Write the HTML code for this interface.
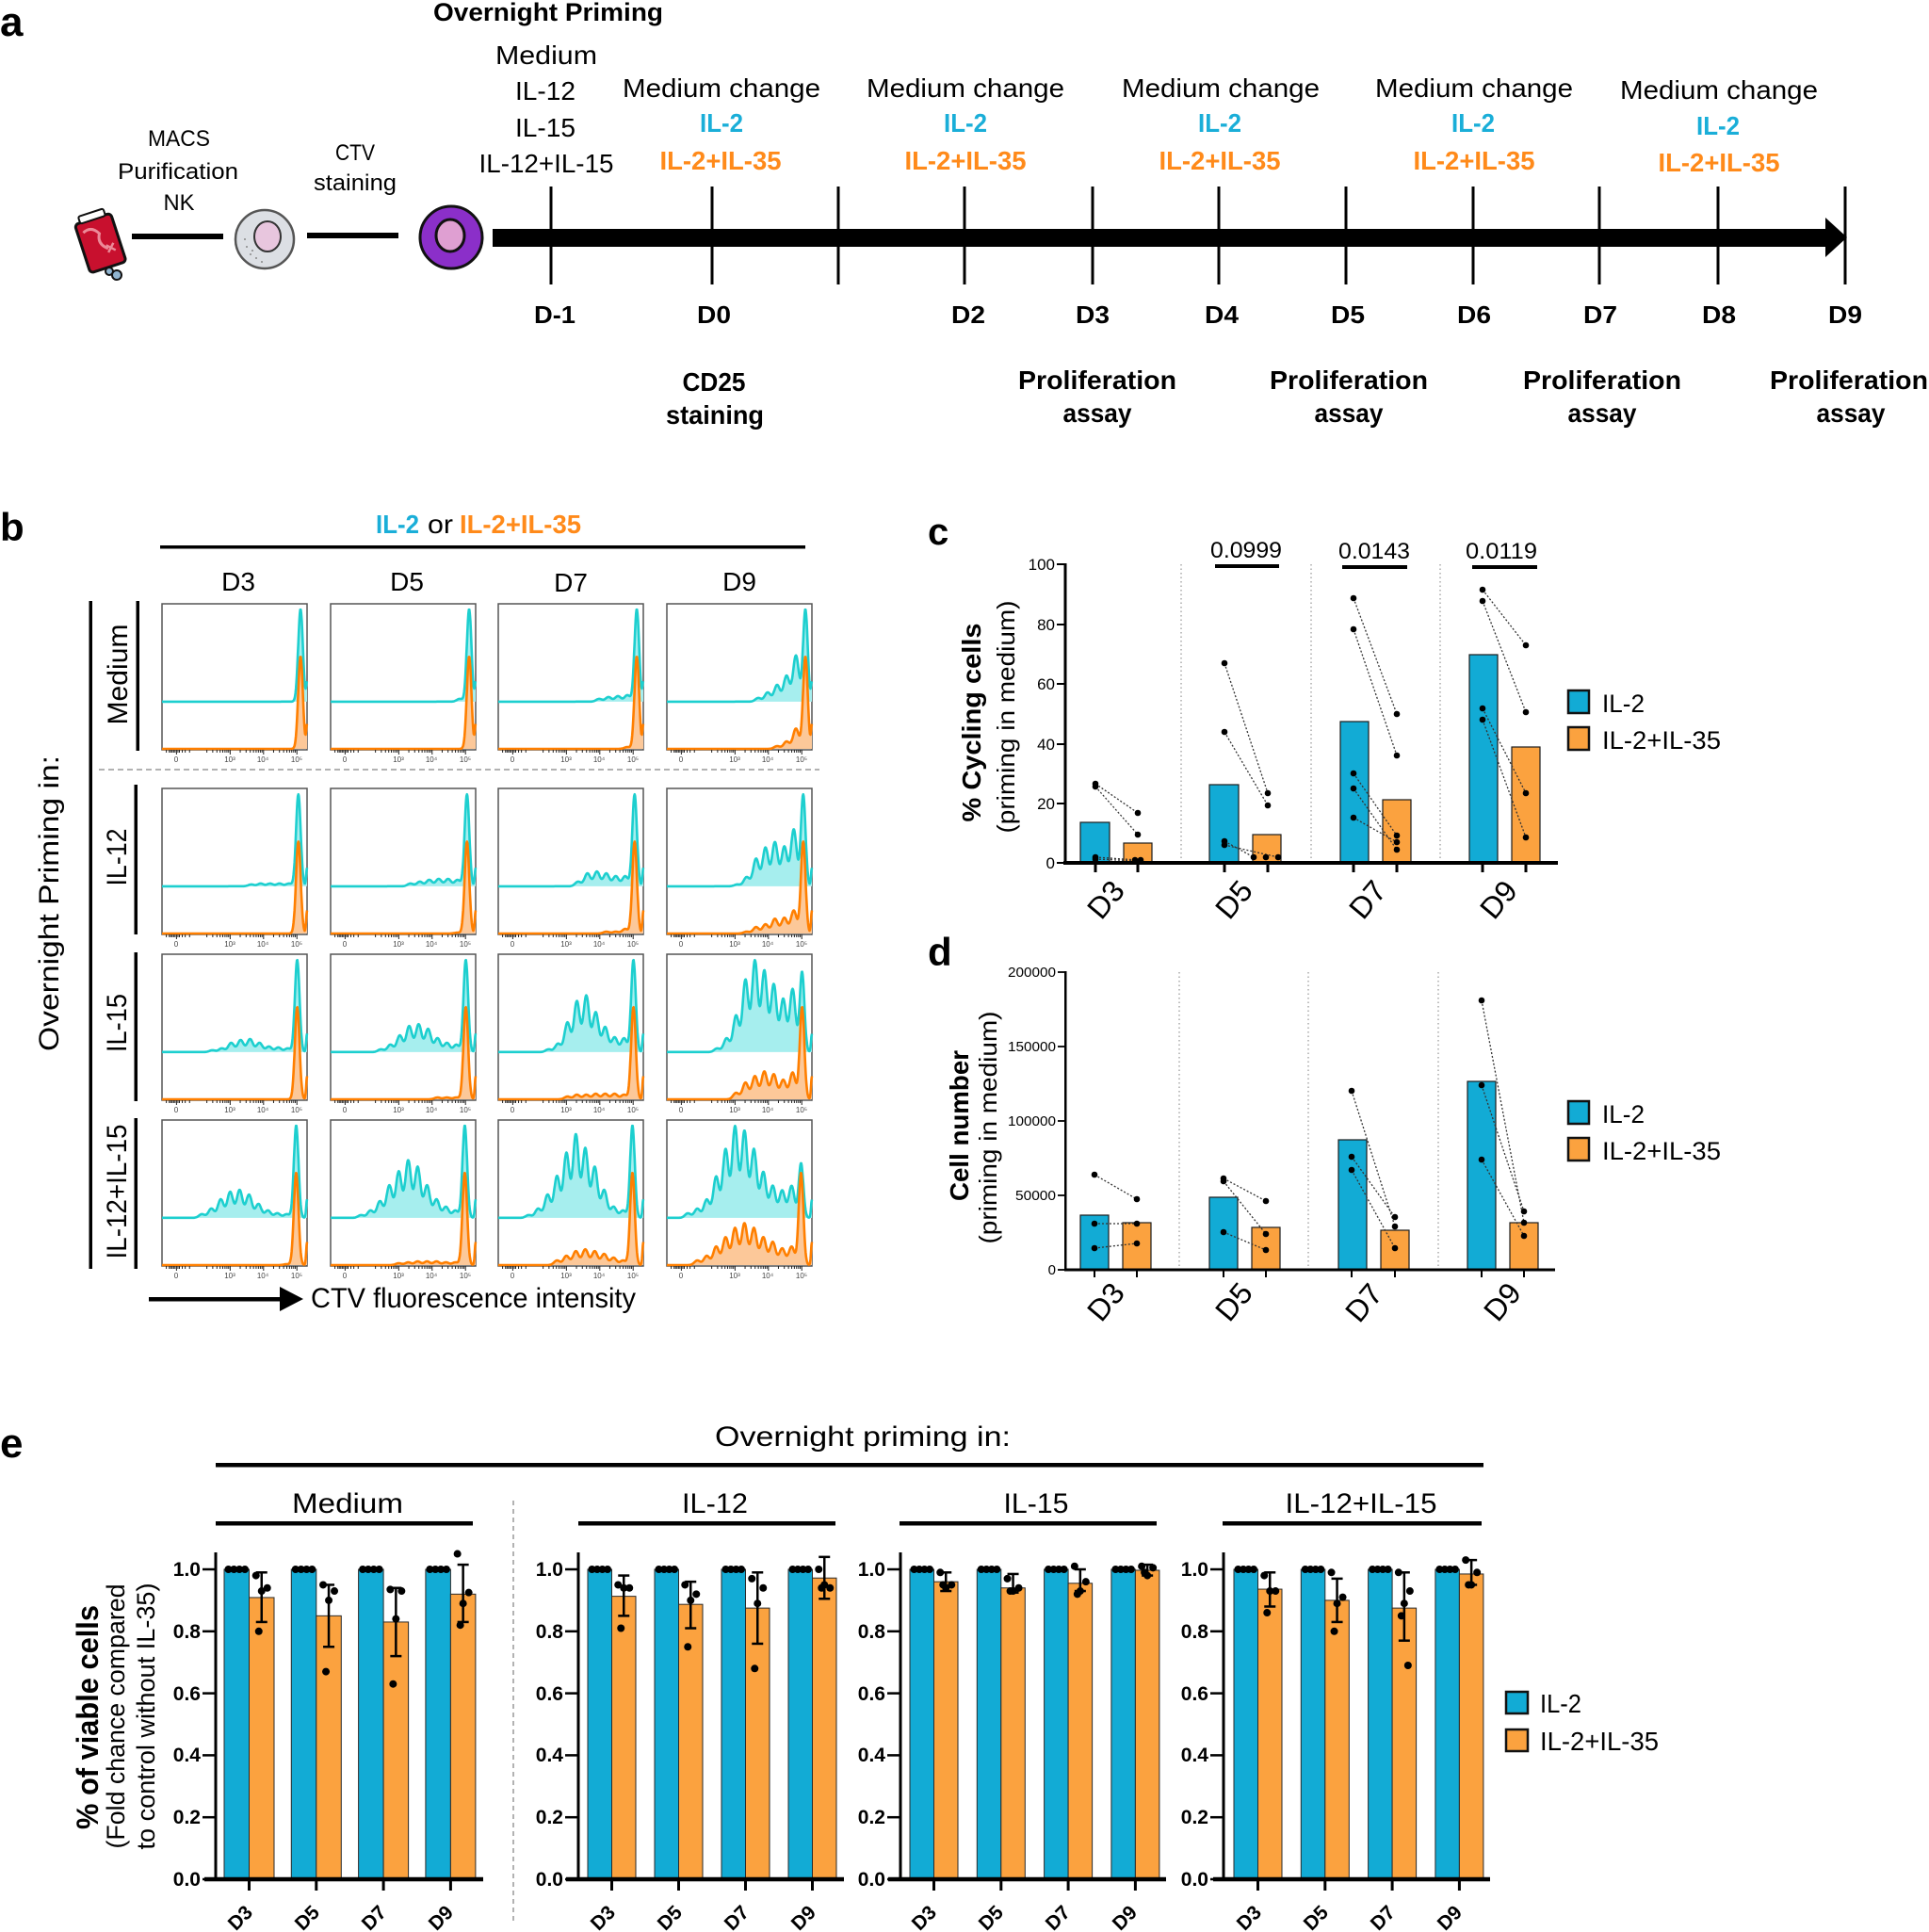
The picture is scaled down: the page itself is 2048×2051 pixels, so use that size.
<!DOCTYPE html>
<html><head><meta charset="utf-8"><title>Figure</title>
<style>
html,body{margin:0;padding:0;background:#fff;}
svg{display:block;}
text{font-family:"Liberation Sans",sans-serif;}
</style></head><body>
<svg id="s" xmlns="http://www.w3.org/2000/svg" width="2048" height="2051" viewBox="0 0 2048 2051">
<rect x="0" y="0" width="2048" height="2051" fill="#fff"/>

<!-- ================= PANEL A ================= -->
<text x="0" y="38" font-size="44" font-weight="bold">a</text>
<g text-anchor="middle">
<text x="582" y="22" font-size="27" font-weight="bold" textLength="244" lengthAdjust="spacingAndGlyphs">Overnight Priming</text>
<text x="580" y="68" font-size="28" textLength="108" lengthAdjust="spacingAndGlyphs">Medium</text>
<text x="579" y="106" font-size="28" textLength="64" lengthAdjust="spacingAndGlyphs">IL-12</text>
<text x="579" y="145" font-size="28" textLength="64" lengthAdjust="spacingAndGlyphs">IL-15</text>
<text x="580" y="183" font-size="28" textLength="143" lengthAdjust="spacingAndGlyphs">IL-12+IL-15</text>

<text x="190" y="155" font-size="24" textLength="66" lengthAdjust="spacingAndGlyphs">MACS</text>
<text x="189" y="190" font-size="24" textLength="128" lengthAdjust="spacingAndGlyphs">Purification</text>
<text x="190" y="223" font-size="24" textLength="33" lengthAdjust="spacingAndGlyphs">NK</text>
<text x="377" y="170" font-size="24" textLength="42" lengthAdjust="spacingAndGlyphs">CTV</text>
<text x="377" y="202" font-size="24" textLength="88" lengthAdjust="spacingAndGlyphs">staining</text>

<text x="766" y="103" font-size="28" textLength="210" lengthAdjust="spacingAndGlyphs">Medium change</text>
<text x="766" y="140" font-size="28" font-weight="bold" fill="#1aaed8" textLength="46" lengthAdjust="spacingAndGlyphs">IL-2</text>
<text x="765" y="180" font-size="28" font-weight="bold" fill="#ff8a1a" textLength="129" lengthAdjust="spacingAndGlyphs">IL-2+IL-35</text>

<text x="1025" y="103" font-size="28" textLength="210" lengthAdjust="spacingAndGlyphs">Medium change</text>
<text x="1025" y="140" font-size="28" font-weight="bold" fill="#1aaed8" textLength="46" lengthAdjust="spacingAndGlyphs">IL-2</text>
<text x="1025" y="180" font-size="28" font-weight="bold" fill="#ff8a1a" textLength="129" lengthAdjust="spacingAndGlyphs">IL-2+IL-35</text>

<text x="1296" y="103" font-size="28" textLength="210" lengthAdjust="spacingAndGlyphs">Medium change</text>
<text x="1295" y="140" font-size="28" font-weight="bold" fill="#1aaed8" textLength="46" lengthAdjust="spacingAndGlyphs">IL-2</text>
<text x="1295" y="180" font-size="28" font-weight="bold" fill="#ff8a1a" textLength="129" lengthAdjust="spacingAndGlyphs">IL-2+IL-35</text>

<text x="1565" y="103" font-size="28" textLength="210" lengthAdjust="spacingAndGlyphs">Medium change</text>
<text x="1564" y="140" font-size="28" font-weight="bold" fill="#1aaed8" textLength="46" lengthAdjust="spacingAndGlyphs">IL-2</text>
<text x="1565" y="180" font-size="28" font-weight="bold" fill="#ff8a1a" textLength="129" lengthAdjust="spacingAndGlyphs">IL-2+IL-35</text>

<text x="1825" y="105" font-size="28" textLength="210" lengthAdjust="spacingAndGlyphs">Medium change</text>
<text x="1824" y="143" font-size="28" font-weight="bold" fill="#1aaed8" textLength="46" lengthAdjust="spacingAndGlyphs">IL-2</text>
<text x="1825" y="182" font-size="28" font-weight="bold" fill="#ff8a1a" textLength="129" lengthAdjust="spacingAndGlyphs">IL-2+IL-35</text>

<g font-size="26" font-weight="bold">
<text x="589" y="343" textLength="44" lengthAdjust="spacingAndGlyphs">D-1</text>
<text x="758" y="343" textLength="36" lengthAdjust="spacingAndGlyphs">D0</text>
<text x="1028" y="343" textLength="36" lengthAdjust="spacingAndGlyphs">D2</text>
<text x="1160" y="343" textLength="36" lengthAdjust="spacingAndGlyphs">D3</text>
<text x="1297" y="343" textLength="36" lengthAdjust="spacingAndGlyphs">D4</text>
<text x="1431" y="343" textLength="36" lengthAdjust="spacingAndGlyphs">D5</text>
<text x="1565" y="343" textLength="36" lengthAdjust="spacingAndGlyphs">D6</text>
<text x="1699" y="343" textLength="36" lengthAdjust="spacingAndGlyphs">D7</text>
<text x="1825" y="343" textLength="36" lengthAdjust="spacingAndGlyphs">D8</text>
<text x="1959" y="343" textLength="36" lengthAdjust="spacingAndGlyphs">D9</text>
</g>
<g font-size="28" font-weight="bold">
<text x="758" y="415" textLength="67" lengthAdjust="spacingAndGlyphs">CD25</text>
<text x="759" y="450" textLength="104" lengthAdjust="spacingAndGlyphs">staining</text>
<text x="1165" y="413" textLength="168" lengthAdjust="spacingAndGlyphs">Proliferation</text>
<text x="1165" y="448" textLength="73" lengthAdjust="spacingAndGlyphs">assay</text>
<text x="1432" y="413" textLength="168" lengthAdjust="spacingAndGlyphs">Proliferation</text>
<text x="1432" y="448" textLength="73" lengthAdjust="spacingAndGlyphs">assay</text>
<text x="1701" y="413" textLength="168" lengthAdjust="spacingAndGlyphs">Proliferation</text>
<text x="1701" y="448" textLength="73" lengthAdjust="spacingAndGlyphs">assay</text>
<text x="1963" y="413" textLength="168" lengthAdjust="spacingAndGlyphs">Proliferation</text>
<text x="1965" y="448" textLength="73" lengthAdjust="spacingAndGlyphs">assay</text>
</g>
</g>

<!-- icons -->
<g transform="rotate(-18 107 259)">
<rect x="87" y="231" width="40" height="54" rx="4" fill="#c8102e" stroke="#111" stroke-width="3"/>
<rect x="93" y="224" width="28" height="8" rx="2" fill="#fff" stroke="#111" stroke-width="2"/>
<path d="M93 242 q10 -5 16 6 q-6 10 4 18" stroke="#ec8a98" stroke-width="3" fill="none"/>
<path d="M112 262 l8 8 m0 -8 l-8 8" stroke="#ec8a98" stroke-width="2.5" fill="none"/>
</g>
<circle cx="116" cy="288" r="4" fill="#8fb4d0" stroke="#111" stroke-width="2"/>
<circle cx="124" cy="292" r="5" fill="#8fb4d0" stroke="#111" stroke-width="2"/>
<rect x="140" y="248" width="97" height="6" fill="#000"/>
<ellipse cx="281" cy="254" rx="31" ry="31" fill="#dcdfe4" stroke="#555" stroke-width="2.5"/>
<ellipse cx="284" cy="251" rx="14" ry="16" fill="#e8c6de" stroke="#333" stroke-width="2"/>
<g fill="#888"><circle cx="262" cy="262" r="1"/><circle cx="266" cy="270" r="1"/><circle cx="272" cy="274" r="1"/><circle cx="260" cy="254" r="1"/><circle cx="278" cy="278" r="1"/><circle cx="268" cy="266" r="1"/></g>
<rect x="326" y="247" width="97" height="6" fill="#000"/>
<ellipse cx="479" cy="252" rx="33" ry="33" fill="#8b2fc9" stroke="#111" stroke-width="3"/>
<ellipse cx="478" cy="250" rx="15" ry="17" fill="#df9fd2" stroke="#111" stroke-width="3"/>

<path d="M523,243 H1938 V231 L1961,252 L1938,273 V262 H523 Z" fill="#000"/>
<g stroke="#000" stroke-width="3">
<line x1="585" y1="198" x2="585" y2="302"/><line x1="756" y1="198" x2="756" y2="302"/>
<line x1="890" y1="198" x2="890" y2="302"/><line x1="1024" y1="198" x2="1024" y2="302"/>
<line x1="1160" y1="198" x2="1160" y2="302"/><line x1="1294" y1="198" x2="1294" y2="302"/>
<line x1="1429" y1="198" x2="1429" y2="302"/><line x1="1564" y1="198" x2="1564" y2="302"/>
<line x1="1698" y1="198" x2="1698" y2="302"/><line x1="1824" y1="198" x2="1824" y2="302"/>
<line x1="1959" y1="198" x2="1959" y2="302"/>
</g>

<!-- ================= PANEL B ================= -->
<text x="0" y="574" font-size="42" font-weight="bold">b</text>
<text x="399" y="566" font-size="28" font-weight="bold" fill="#1aaed8" textLength="46" lengthAdjust="spacingAndGlyphs">IL-2</text>
<text x="454" y="566" font-size="28" textLength="27" lengthAdjust="spacingAndGlyphs">or</text>
<text x="488" y="566" font-size="28" font-weight="bold" fill="#ff8a1a" textLength="129" lengthAdjust="spacingAndGlyphs">IL-2+IL-35</text>
<rect x="170" y="579" width="685" height="3.5" fill="#000"/>
<g font-size="28" text-anchor="middle">
<text x="253" y="627">D3</text><text x="432" y="627">D5</text><text x="606" y="628">D7</text><text x="785" y="627">D9</text>
</g>
<rect x="94.5" y="638" width="3.5" height="709" fill="#000"/>
<rect x="144.5" y="638" width="3.5" height="159" fill="#000"/>
<rect x="142.5" y="833" width="3.5" height="159" fill="#000"/>
<rect x="142.5" y="1011" width="3.5" height="158" fill="#000"/>
<rect x="142.5" y="1187" width="3.5" height="160" fill="#000"/>
<line x1="105" y1="817" x2="870" y2="817" stroke="#999" stroke-width="1.5" stroke-dasharray="6 4"/>
<text transform="translate(62,959) rotate(-90)" text-anchor="middle" font-size="30" textLength="314" lengthAdjust="spacingAndGlyphs">Overnight Priming in:</text>
<text transform="translate(135,716) rotate(-90)" text-anchor="middle" font-size="30" textLength="107" lengthAdjust="spacingAndGlyphs">Medium</text>
<text transform="translate(134,910) rotate(-90)" text-anchor="middle" font-size="30" textLength="61" lengthAdjust="spacingAndGlyphs">IL-12</text>
<text transform="translate(134,1086) rotate(-90)" text-anchor="middle" font-size="30" textLength="62" lengthAdjust="spacingAndGlyphs">IL-15</text>
<text transform="translate(134,1265) rotate(-90)" text-anchor="middle" font-size="30" textLength="143" lengthAdjust="spacingAndGlyphs">IL-12+IL-15</text>

<g id="hist"></g>

<g font-size="8" fill="#444" text-anchor="middle">
<g transform="translate(172,641)"><text x="15" y="168">0</text><text x="72" y="168">10³</text><text x="107" y="168">10⁴</text><text x="143" y="168">10⁵</text></g>
<g transform="translate(351,641)"><text x="15" y="168">0</text><text x="72" y="168">10³</text><text x="107" y="168">10⁴</text><text x="143" y="168">10⁵</text></g>
<g transform="translate(529,641)"><text x="15" y="168">0</text><text x="72" y="168">10³</text><text x="107" y="168">10⁴</text><text x="143" y="168">10⁵</text></g>
<g transform="translate(708,641)"><text x="15" y="168">0</text><text x="72" y="168">10³</text><text x="107" y="168">10⁴</text><text x="143" y="168">10⁵</text></g>
<g transform="translate(172,837)"><text x="15" y="168">0</text><text x="72" y="168">10³</text><text x="107" y="168">10⁴</text><text x="143" y="168">10⁵</text></g>
<g transform="translate(351,837)"><text x="15" y="168">0</text><text x="72" y="168">10³</text><text x="107" y="168">10⁴</text><text x="143" y="168">10⁵</text></g>
<g transform="translate(529,837)"><text x="15" y="168">0</text><text x="72" y="168">10³</text><text x="107" y="168">10⁴</text><text x="143" y="168">10⁵</text></g>
<g transform="translate(708,837)"><text x="15" y="168">0</text><text x="72" y="168">10³</text><text x="107" y="168">10⁴</text><text x="143" y="168">10⁵</text></g>
<g transform="translate(172,1013)"><text x="15" y="168">0</text><text x="72" y="168">10³</text><text x="107" y="168">10⁴</text><text x="143" y="168">10⁵</text></g>
<g transform="translate(351,1013)"><text x="15" y="168">0</text><text x="72" y="168">10³</text><text x="107" y="168">10⁴</text><text x="143" y="168">10⁵</text></g>
<g transform="translate(529,1013)"><text x="15" y="168">0</text><text x="72" y="168">10³</text><text x="107" y="168">10⁴</text><text x="143" y="168">10⁵</text></g>
<g transform="translate(708,1013)"><text x="15" y="168">0</text><text x="72" y="168">10³</text><text x="107" y="168">10⁴</text><text x="143" y="168">10⁵</text></g>
<g transform="translate(172,1189)"><text x="15" y="168">0</text><text x="72" y="168">10³</text><text x="107" y="168">10⁴</text><text x="143" y="168">10⁵</text></g>
<g transform="translate(351,1189)"><text x="15" y="168">0</text><text x="72" y="168">10³</text><text x="107" y="168">10⁴</text><text x="143" y="168">10⁵</text></g>
<g transform="translate(529,1189)"><text x="15" y="168">0</text><text x="72" y="168">10³</text><text x="107" y="168">10⁴</text><text x="143" y="168">10⁵</text></g>
<g transform="translate(708,1189)"><text x="15" y="168">0</text><text x="72" y="168">10³</text><text x="107" y="168">10⁴</text><text x="143" y="168">10⁵</text></g>
</g>

<rect x="158" y="1377" width="142" height="4.5" fill="#000"/>
<path d="M297,1366 L322,1379 L297,1392 Z" fill="#000"/>
<text x="330" y="1388" font-size="30" textLength="345" lengthAdjust="spacingAndGlyphs">CTV fluorescence intensity</text>

<!-- ================= PANEL C ================= -->
<text x="985" y="578" font-size="40" font-weight="bold">c</text>
<g stroke="#aaa" stroke-width="1.5" stroke-dasharray="1.5 3">
<line x1="1254" y1="599" x2="1254" y2="914"/><line x1="1392" y1="599" x2="1392" y2="914"/><line x1="1529" y1="599" x2="1529" y2="914"/>
</g>
<g stroke="#1d1d1d" stroke-width="1.2">
<rect x="1147" y="873" width="31" height="43" fill="#12abd5"/>
<rect x="1193" y="895" width="30" height="21" fill="#fba23f"/>
<rect x="1284" y="833" width="31" height="83" fill="#12abd5"/>
<rect x="1330" y="886" width="30" height="30" fill="#fba23f"/>
<rect x="1423" y="766" width="30" height="150" fill="#12abd5"/>
<rect x="1468" y="849" width="30" height="67" fill="#fba23f"/>
<rect x="1560" y="695" width="30" height="221" fill="#12abd5"/>
<rect x="1605" y="793" width="30" height="123" fill="#fba23f"/>
</g>
<g stroke="#333" stroke-width="1.3" stroke-dasharray="2 2" fill="none">
<line x1="1163" y1="832" x2="1208" y2="863"/><line x1="1163" y1="835" x2="1208" y2="886"/>
<line x1="1163" y1="910" x2="1208" y2="913"/><line x1="1163" y1="912" x2="1208" y2="914"/>
<line x1="1300" y1="704" x2="1346" y2="842"/><line x1="1300" y1="777" x2="1346" y2="855"/>
<line x1="1300" y1="893" x2="1331" y2="910"/><line x1="1300" y1="897" x2="1357" y2="910"/>
<line x1="1437" y1="635" x2="1483" y2="758"/><line x1="1437" y1="668" x2="1483" y2="802"/>
<line x1="1437" y1="821" x2="1483" y2="887"/><line x1="1437" y1="837" x2="1483" y2="902"/>
<line x1="1437" y1="868" x2="1483" y2="894"/>
<line x1="1574" y1="626" x2="1620" y2="685"/><line x1="1574" y1="638" x2="1620" y2="756"/>
<line x1="1574" y1="752" x2="1620" y2="842"/><line x1="1574" y1="764" x2="1620" y2="889"/>
</g>
<g fill="#000">
<circle cx="1163" cy="832" r="3.3"/><circle cx="1163" cy="835" r="3.3"/><circle cx="1163" cy="910" r="3.3"/><circle cx="1163" cy="912" r="3.3"/>
<circle cx="1208" cy="863" r="3.3"/><circle cx="1208" cy="886" r="3.3"/><circle cx="1205" cy="913" r="3.3"/><circle cx="1211" cy="913" r="3.3"/>
<circle cx="1300" cy="704" r="3.3"/><circle cx="1300" cy="777" r="3.3"/><circle cx="1300" cy="893" r="3.3"/><circle cx="1300" cy="897" r="3.3"/>
<circle cx="1346" cy="842" r="3.3"/><circle cx="1346" cy="855" r="3.3"/><circle cx="1331" cy="910" r="3.3"/><circle cx="1344" cy="910" r="3.3"/><circle cx="1357" cy="910" r="3.3"/>
<circle cx="1437" cy="635" r="3.3"/><circle cx="1437" cy="668" r="3.3"/><circle cx="1437" cy="821" r="3.3"/><circle cx="1437" cy="837" r="3.3"/><circle cx="1437" cy="868" r="3.3"/>
<circle cx="1483" cy="758" r="3.3"/><circle cx="1483" cy="802" r="3.3"/><circle cx="1483" cy="887" r="3.3"/><circle cx="1483" cy="894" r="3.3"/><circle cx="1483" cy="902" r="3.3"/>
<circle cx="1574" cy="626" r="3.3"/><circle cx="1574" cy="638" r="3.3"/><circle cx="1574" cy="752" r="3.3"/><circle cx="1574" cy="764" r="3.3"/>
<circle cx="1620" cy="685" r="3.3"/><circle cx="1620" cy="756" r="3.3"/><circle cx="1620" cy="842" r="3.3"/><circle cx="1620" cy="889" r="3.3"/>
</g>
<rect x="1129.5" y="598" width="3" height="320" fill="#000"/>
<rect x="1129" y="914" width="525" height="4" fill="#000"/>
<g stroke="#000" stroke-width="2">
<line x1="1122" y1="599" x2="1131" y2="599"/><line x1="1122" y1="663" x2="1131" y2="663"/><line x1="1122" y1="726" x2="1131" y2="726"/>
<line x1="1122" y1="790" x2="1131" y2="790"/><line x1="1122" y1="853" x2="1131" y2="853"/><line x1="1122" y1="916" x2="1131" y2="916"/>
</g>
<g stroke="#000" stroke-width="3">
<line x1="1163" y1="916" x2="1163" y2="926"/><line x1="1208" y1="916" x2="1208" y2="926"/>
<line x1="1300" y1="916" x2="1300" y2="926"/><line x1="1346" y1="916" x2="1346" y2="926"/>
<line x1="1437" y1="916" x2="1437" y2="926"/><line x1="1483" y1="916" x2="1483" y2="926"/>
<line x1="1574" y1="916" x2="1574" y2="926"/><line x1="1620" y1="916" x2="1620" y2="926"/>
</g>
<g font-size="17" text-anchor="end">
<text x="1120" y="605">100</text><text x="1120" y="669">80</text><text x="1120" y="732">60</text>
<text x="1120" y="796">40</text><text x="1120" y="859">20</text><text x="1120" y="922">0</text>
</g>
<g font-size="24" text-anchor="middle">
<text x="1323" y="592" textLength="76" lengthAdjust="spacingAndGlyphs">0.0999</text>
<text x="1459" y="593" textLength="76" lengthAdjust="spacingAndGlyphs">0.0143</text>
<text x="1594" y="593" textLength="76" lengthAdjust="spacingAndGlyphs">0.0119</text>
</g>
<rect x="1290" y="599" width="68" height="4" fill="#000"/>
<rect x="1425" y="600" width="69" height="4" fill="#000"/>
<rect x="1563" y="600" width="69" height="4" fill="#000"/>
<text transform="translate(1041,767) rotate(-90)" text-anchor="middle" font-size="28" font-weight="bold" textLength="211" lengthAdjust="spacingAndGlyphs">% Cycling cells</text>
<text transform="translate(1077,761) rotate(-90)" text-anchor="middle" font-size="26" textLength="247" lengthAdjust="spacingAndGlyphs">(priming in medium)</text>
<g font-size="32" text-anchor="middle">
<text transform="translate(1174,955) rotate(-50)" dy="11">D3</text>
<text transform="translate(1310,955) rotate(-50)" dy="11">D5</text>
<text transform="translate(1452,955) rotate(-50)" dy="11">D7</text>
<text transform="translate(1591,955) rotate(-50)" dy="11">D9</text>
</g>
<rect x="1665" y="733" width="22" height="24" fill="#12abd5" stroke="#111" stroke-width="2.5"/>
<rect x="1665" y="772" width="22" height="24" fill="#fba23f" stroke="#111" stroke-width="2.5"/>
<text x="1701" y="756" font-size="27" textLength="45" lengthAdjust="spacingAndGlyphs">IL-2</text>
<text x="1701" y="795" font-size="27" textLength="126" lengthAdjust="spacingAndGlyphs">IL-2+IL-35</text>

<!-- ================= PANEL D ================= -->
<text x="985" y="1025" font-size="42" font-weight="bold">d</text>
<g stroke="#aaa" stroke-width="1.5" stroke-dasharray="1.5 3">
<line x1="1252" y1="1032" x2="1252" y2="1346"/><line x1="1389" y1="1032" x2="1389" y2="1346"/><line x1="1527" y1="1032" x2="1527" y2="1346"/>
</g>
<g stroke="#1d1d1d" stroke-width="1.2">
<rect x="1147" y="1290" width="30" height="58" fill="#12abd5"/>
<rect x="1192" y="1298" width="30" height="50" fill="#fba23f"/>
<rect x="1284" y="1271" width="30" height="77" fill="#12abd5"/>
<rect x="1329" y="1303" width="30" height="45" fill="#fba23f"/>
<rect x="1421" y="1210" width="30" height="138" fill="#12abd5"/>
<rect x="1466" y="1306" width="30" height="42" fill="#fba23f"/>
<rect x="1558" y="1148" width="30" height="200" fill="#12abd5"/>
<rect x="1603" y="1298" width="30" height="50" fill="#fba23f"/>
</g>
<g stroke="#333" stroke-width="1.3" stroke-dasharray="2 2" fill="none">
<line x1="1162" y1="1247" x2="1207" y2="1273"/><line x1="1162" y1="1299" x2="1207" y2="1299"/><line x1="1162" y1="1325" x2="1207" y2="1320"/>
<line x1="1299" y1="1251" x2="1344" y2="1275"/><line x1="1299" y1="1254" x2="1344" y2="1310"/><line x1="1299" y1="1308" x2="1344" y2="1327"/>
<line x1="1435" y1="1158" x2="1481" y2="1302"/><line x1="1435" y1="1228" x2="1481" y2="1292"/><line x1="1435" y1="1242" x2="1481" y2="1325"/>
<line x1="1573" y1="1062" x2="1618" y2="1298"/><line x1="1573" y1="1152" x2="1618" y2="1286"/><line x1="1573" y1="1231" x2="1618" y2="1312"/>
</g>
<g fill="#000">
<circle cx="1162" cy="1247" r="3.3"/><circle cx="1162" cy="1299" r="3.3"/><circle cx="1162" cy="1325" r="3.3"/>
<circle cx="1207" cy="1273" r="3.3"/><circle cx="1207" cy="1299" r="3.3"/><circle cx="1207" cy="1320" r="3.3"/>
<circle cx="1299" cy="1251" r="3.3"/><circle cx="1299" cy="1254" r="3.3"/><circle cx="1299" cy="1308" r="3.3"/>
<circle cx="1344" cy="1275" r="3.3"/><circle cx="1344" cy="1310" r="3.3"/><circle cx="1344" cy="1327" r="3.3"/>
<circle cx="1435" cy="1158" r="3.3"/><circle cx="1435" cy="1228" r="3.3"/><circle cx="1435" cy="1242" r="3.3"/>
<circle cx="1481" cy="1292" r="3.3"/><circle cx="1481" cy="1302" r="3.3"/><circle cx="1481" cy="1325" r="3.3"/>
<circle cx="1573" cy="1062" r="3.3"/><circle cx="1573" cy="1152" r="3.3"/><circle cx="1573" cy="1231" r="3.3"/>
<circle cx="1618" cy="1286" r="3.3"/><circle cx="1618" cy="1298" r="3.3"/><circle cx="1618" cy="1312" r="3.3"/>
</g>
<rect x="1130" y="1031" width="2.5" height="318" fill="#000"/>
<rect x="1130" y="1346.5" width="521" height="3" fill="#000"/>
<g stroke="#000" stroke-width="1.8">
<line x1="1123" y1="1032" x2="1131" y2="1032"/><line x1="1123" y1="1111" x2="1131" y2="1111"/><line x1="1123" y1="1190" x2="1131" y2="1190"/>
<line x1="1123" y1="1269" x2="1131" y2="1269"/><line x1="1123" y1="1348" x2="1131" y2="1348"/>
</g>
<g stroke="#000" stroke-width="2">
<line x1="1162" y1="1348" x2="1162" y2="1356"/><line x1="1207" y1="1348" x2="1207" y2="1356"/>
<line x1="1299" y1="1348" x2="1299" y2="1356"/><line x1="1344" y1="1348" x2="1344" y2="1356"/>
<line x1="1435" y1="1348" x2="1435" y2="1356"/><line x1="1481" y1="1348" x2="1481" y2="1356"/>
<line x1="1573" y1="1348" x2="1573" y2="1356"/><line x1="1618" y1="1348" x2="1618" y2="1356"/>
</g>
<g font-size="15" text-anchor="end">
<text x="1121" y="1037" textLength="51" lengthAdjust="spacingAndGlyphs">200000</text>
<text x="1121" y="1116" textLength="51" lengthAdjust="spacingAndGlyphs">150000</text>
<text x="1121" y="1195" textLength="51" lengthAdjust="spacingAndGlyphs">100000</text>
<text x="1121" y="1274" textLength="43" lengthAdjust="spacingAndGlyphs">50000</text>
<text x="1121" y="1353">0</text>
</g>
<text transform="translate(1028,1195) rotate(-90)" text-anchor="middle" font-size="28" font-weight="bold" textLength="160" lengthAdjust="spacingAndGlyphs">Cell number</text>
<text transform="translate(1058,1197) rotate(-90)" text-anchor="middle" font-size="26" textLength="247" lengthAdjust="spacingAndGlyphs">(priming in medium)</text>
<g font-size="32" text-anchor="middle">
<text transform="translate(1174,1382) rotate(-50)" dy="11">D3</text>
<text transform="translate(1310,1382) rotate(-50)" dy="11">D5</text>
<text transform="translate(1448,1383) rotate(-50)" dy="11">D7</text>
<text transform="translate(1595,1382) rotate(-50)" dy="11">D9</text>
</g>
<rect x="1665" y="1169" width="22" height="24" fill="#12abd5" stroke="#111" stroke-width="2.5"/>
<rect x="1665" y="1208" width="22" height="24" fill="#fba23f" stroke="#111" stroke-width="2.5"/>
<text x="1701" y="1192" font-size="27" textLength="45" lengthAdjust="spacingAndGlyphs">IL-2</text>
<text x="1701" y="1231" font-size="27" textLength="126" lengthAdjust="spacingAndGlyphs">IL-2+IL-35</text>

<!-- ================= PANEL E ================= -->
<text x="0" y="1547" font-size="44" font-weight="bold">e</text>
<text x="916" y="1535" text-anchor="middle" font-size="30" textLength="314" lengthAdjust="spacingAndGlyphs">Overnight priming in:</text>
<rect x="229" y="1553" width="1346" height="4.5" fill="#000"/>
<g text-anchor="middle" font-size="30">
<text x="369" y="1606" textLength="118" lengthAdjust="spacingAndGlyphs">Medium</text>
<text x="759" y="1606" textLength="70" lengthAdjust="spacingAndGlyphs">IL-12</text>
<text x="1100" y="1606" textLength="69" lengthAdjust="spacingAndGlyphs">IL-15</text>
<text x="1445" y="1606" textLength="161" lengthAdjust="spacingAndGlyphs">IL-12+IL-15</text>
</g>
<rect x="229" y="1615" width="273" height="4.5" fill="#000"/>
<rect x="614" y="1615" width="273" height="4.5" fill="#000"/>
<rect x="955" y="1615" width="273" height="4.5" fill="#000"/>
<rect x="1298" y="1615" width="275" height="4.5" fill="#000"/>
<line x1="545" y1="1593" x2="545" y2="2040" stroke="#999" stroke-width="1.5" stroke-dasharray="5 4"/>

<g id="ebars"></g>

<g font-size="21" font-weight="bold" text-anchor="end">
<text x="213" y="1673">1.0</text><text x="213" y="1739">0.8</text>
<text x="213" y="1805">0.6</text><text x="213" y="1870">0.4</text>
<text x="213" y="1936">0.2</text><text x="213" y="2002">0.0</text>
<text x="598" y="1673">1.0</text><text x="598" y="1739">0.8</text>
<text x="598" y="1805">0.6</text><text x="598" y="1870">0.4</text>
<text x="598" y="1936">0.2</text><text x="598" y="2002">0.0</text>
<text x="940" y="1673">1.0</text><text x="940" y="1739">0.8</text>
<text x="940" y="1805">0.6</text><text x="940" y="1870">0.4</text>
<text x="940" y="1936">0.2</text><text x="940" y="2002">0.0</text>
<text x="1283" y="1673">1.0</text><text x="1283" y="1739">0.8</text>
<text x="1283" y="1805">0.6</text><text x="1283" y="1870">0.4</text>
<text x="1283" y="1936">0.2</text><text x="1283" y="2002">0.0</text>
</g>
<g font-size="21" font-weight="bold" text-anchor="middle">
<text transform="translate(255,2036) rotate(-45)" dy="7">D3</text><text transform="translate(326,2036) rotate(-45)" dy="7">D5</text>
<text transform="translate(397,2036) rotate(-45)" dy="7">D7</text><text transform="translate(468,2036) rotate(-45)" dy="7">D9</text>
<text transform="translate(640,2036) rotate(-45)" dy="7">D3</text><text transform="translate(711,2036) rotate(-45)" dy="7">D5</text>
<text transform="translate(782,2036) rotate(-45)" dy="7">D7</text><text transform="translate(853,2036) rotate(-45)" dy="7">D9</text>
<text transform="translate(981,2036) rotate(-45)" dy="7">D3</text><text transform="translate(1052,2036) rotate(-45)" dy="7">D5</text>
<text transform="translate(1123,2036) rotate(-45)" dy="7">D7</text><text transform="translate(1194,2036) rotate(-45)" dy="7">D9</text>
<text transform="translate(1326,2036) rotate(-45)" dy="7">D3</text><text transform="translate(1397,2036) rotate(-45)" dy="7">D5</text>
<text transform="translate(1468,2036) rotate(-45)" dy="7">D7</text><text transform="translate(1539,2036) rotate(-45)" dy="7">D9</text>
</g>
<text transform="translate(104,1823) rotate(-90)" text-anchor="middle" font-size="32" font-weight="bold" textLength="238" lengthAdjust="spacingAndGlyphs">% of viable cells</text>
<text transform="translate(132,1822) rotate(-90)" text-anchor="middle" font-size="27" textLength="281" lengthAdjust="spacingAndGlyphs">(Fold chance compared</text>
<text transform="translate(164,1822) rotate(-90)" text-anchor="middle" font-size="27" textLength="283" lengthAdjust="spacingAndGlyphs">to control without IL-35)</text>
<rect x="1599" y="1796" width="23" height="23" fill="#12abd5" stroke="#111" stroke-width="2.5"/>
<rect x="1599" y="1836" width="23" height="23" fill="#fba23f" stroke="#111" stroke-width="2.5"/>
<text x="1635" y="1818" font-size="28" textLength="44" lengthAdjust="spacingAndGlyphs">IL-2</text>
<text x="1635" y="1858" font-size="28" textLength="126" lengthAdjust="spacingAndGlyphs">IL-2+IL-35</text>
</svg>
<script>
(function(){
var NS="http://www.w3.org/2000/svg";
function mk(p,tag,a){var e=document.createElementNS(NS,tag);for(var k in a)e.setAttribute(k,a[k]);p.appendChild(e);return e;}
/* ---------- histograms ---------- */
var hg=document.getElementById('hist');
var HC=[172,351,529,708],HR=[641,837,1013,1189],HW=154,HH=155;
var MP=[0.955,0.94,0.932,0.925];
var S=[
 [ [[1],[1]], [[1,0.03],[1]], [[1,0.07,0.06,0.05,0.03],[1,0.02]], [[1,0.5,0.28,0.18,0.1,0.04],[1,0.22,0.08,0.03]] ],
 [ [[1,0.03,0.03,0.03,0.03,0.02],[1]], [[1,0.07,0.08,0.08,0.07,0.05,0.03],[1,0.01]],
   [[1,0.11,0.11,0.14,0.16,0.14,0.05],[1,0.05,0.02,0.02]], [[1,0.62,0.43,0.48,0.42,0.3,0.1,0.02],[1,0.25,0.17,0.16,0.1,0.07,0.02]] ],
 [ [[1,0.04,0.05,0.06,0.1,0.14,0.13,0.1,0.04,0.02],[1]], [[1,0.08,0.1,0.15,0.25,0.3,0.28,0.18,0.08,0.03],[1,0.02,0.02,0.02]],
   [[1,0.15,0.16,0.27,0.43,0.61,0.55,0.32,0.09,0.03],[1,0.05,0.06,0.06,0.06,0.05,0.05,0.03]],
   [[0.88,0.69,0.58,0.74,0.89,1.0,0.79,0.4,0.15,0.04],[1,0.29,0.21,0.27,0.3,0.25,0.18,0.07]] ],
 [ [[1,0.04,0.05,0.08,0.15,0.25,0.3,0.28,0.2,0.1,0.04],[1,0.01]],
   [[1,0.08,0.12,0.2,0.35,0.55,0.62,0.5,0.35,0.18,0.08,0.03],[1,0.03,0.03,0.04,0.04,0.04,0.03,0.02]],
   [[1,0.08,0.12,0.3,0.55,0.75,0.9,0.7,0.45,0.25,0.1,0.03],[1,0.05,0.08,0.12,0.15,0.17,0.15,0.1,0.05]],
   [[0.6,0.35,0.3,0.35,0.5,0.75,0.95,1.0,0.75,0.45,0.2,0.1,0.05],[1,0.2,0.18,0.25,0.3,0.4,0.45,0.4,0.3,0.2,0.1,0.05]] ]
];
function gs(x,m,s){var d=(x-m)/s;return Math.exp(-0.5*d*d);}
function curve(a,m,edge){var N=300,v=[],mx=0;for(var i=0;i<=N;i++){var x=i/N;var y=a[0]*gs(x,m,0.016);for(var k=1;k<a.length;k++)y+=a[k]*gs(x,m-k*0.065,0.02);y+=edge*gs(x,1,0.006);v.push(y);if(y>mx)mx=y;}return v.map(function(y){return y/mx;});}
var minors=[0.03,0.05,0.06,0.07,0.08,0.09,0.11,0.12,0.14,0.16,0.19];
[0.24,0.47,0.70].forEach(function(s){for(var k=2;k<10;k++)minors.push(s+Math.log10(k)*0.23);});
for(var r=0;r<4;r++)for(var c=0;c<4;c++){
 var L=HC[c],T=HR[r];
 mk(hg,'rect',{x:L,y:T,width:HW,height:HH,fill:'#fff',stroke:'#555','stroke-width':1.5});
 var layers=[[0,T+0.67*HH,'#a6eeee','#1dcfcf'],[1,T+HH-1,'#fcc899','#ff7f00']];
 layers.forEach(function(ly){
  var v=curve(S[r][c][ly[0]],MP[r],ly[0]==0?0.2:0.25);var base=ly[1];
  var pts=v.map(function(y,i){return (L+i/(v.length-1)*HW).toFixed(1)+','+(base-0.63*HH*y).toFixed(1);});
  mk(hg,'path',{d:'M'+L+','+base+' L'+pts.join(' L')+' L'+(L+HW)+','+base+' Z',fill:ly[2],stroke:'none'});
  mk(hg,'path',{d:'M'+pts.join(' L'),fill:'none',stroke:ly[3],'stroke-width':2.6,'stroke-linejoin':'round'});
 });
 [0.1,0.47,0.70,0.93].forEach(function(f){mk(hg,'line',{x1:L+f*HW,x2:L+f*HW,y1:T+HH,y2:T+HH+5,stroke:'#222','stroke-width':1});});
 minors.forEach(function(f){if(f<1)mk(hg,'line',{x1:L+f*HW,x2:L+f*HW,y1:T+HH,y2:T+HH+3,stroke:'#222','stroke-width':1});});
}
/* ---------- panel e bars ---------- */
var eg=document.getElementById('ebars');
var BL='#12abd5',OR='#fba23f';
function Y(v){return 1995-v*329;}
var E=[
 {ax:229,b0:238,sp:71.3,bw:26.5,m:[0.909,0.85,0.83,0.92],err:[[0.99,0.83],[0.95,0.75],[0.94,0.72],[1.015,0.83]],d:[[0.98,0.94,0.93,0.80],[0.95,0.93,0.90,0.67],[0.935,0.93,0.84,0.63],[1.05,0.925,0.89,0.82]],x1:217,x2:513},
 {ax:614,b0:624,sp:71,bw:25.5,m:[0.913,0.887,0.875,0.972],err:[[0.98,0.85],[0.96,0.81],[0.99,0.76],[1.04,0.905]],d:[[0.95,0.94,0.94,0.81],[0.95,0.92,0.90,0.75],[0.97,0.94,0.89,0.68],[1.0,0.94,0.95,0.94]],x1:601,x2:896},
 {ax:956,b0:966,sp:71.3,bw:25.5,m:[0.96,0.94,0.955,0.997],err:[[0.99,0.93],[0.985,0.925],[1.0,0.93],[1.015,0.98]],d:[[0.99,0.95,0.94,0.95],[0.97,0.94,0.93,0.93],[1.01,0.96,0.93,0.92],[1.01,1.005,0.98,0.99]],x1:943,x2:1238},
 {ax:1299,b0:1310,sp:71.3,bw:25.5,m:[0.936,0.90,0.875,0.985],err:[[0.99,0.88],[0.97,0.83],[0.99,0.77],[1.03,0.95]],d:[[0.98,0.93,0.93,0.86],[0.99,0.91,0.89,0.80],[0.99,0.93,0.89,0.85,0.69],[1.03,0.99,0.95,0.95]],x1:1288,x2:1582}
];
var jit=[-6,6,0,-3,4];
E.forEach(function(p){
 for(var i=0;i<4;i++){
  var bx=p.b0+i*p.sp, ox=bx+p.bw, oc=ox+p.bw/2;
  mk(eg,'rect',{x:bx,y:Y(1),width:p.bw,height:329,fill:BL,stroke:'#2a2a2a','stroke-width':1});
  mk(eg,'rect',{x:ox,y:Y(p.m[i]),width:p.bw,height:1995-Y(p.m[i]),fill:OR,stroke:'#2a2a2a','stroke-width':1});
  for(var j=0;j<4;j++)mk(eg,'circle',{cx:bx+4.5+j*(p.bw-9)/3,cy:Y(1),r:4,fill:'#000'});
  var hi=p.err[i][0],lo=p.err[i][1];
  mk(eg,'line',{x1:oc,x2:oc,y1:Y(hi),y2:Y(lo),stroke:'#000','stroke-width':2.5});
  mk(eg,'line',{x1:oc-6,x2:oc+6,y1:Y(hi),y2:Y(hi),stroke:'#000','stroke-width':2.5});
  mk(eg,'line',{x1:oc-6,x2:oc+6,y1:Y(lo),y2:Y(lo),stroke:'#000','stroke-width':2.5});
  p.d[i].forEach(function(v,j){mk(eg,'circle',{cx:oc+jit[j],cy:Y(v),r:4,fill:'#000'});});
  mk(eg,'line',{x1:ox,x2:ox,y1:1995,y2:2007,stroke:'#000','stroke-width':3});
 }
 mk(eg,'line',{x1:p.ax,x2:p.ax,y1:1648,y2:1997,stroke:'#000','stroke-width':3});
 [0,0.2,0.4,0.6,0.8,1].forEach(function(v){mk(eg,'line',{x1:p.ax-14,x2:p.ax,y1:Y(v),y2:Y(v),stroke:'#000','stroke-width':2.5});});
 mk(eg,'line',{x1:p.x1,x2:p.x2,y1:1995,y2:1995,stroke:'#000','stroke-width':4.5});
});
})();
</script>
</body></html>
